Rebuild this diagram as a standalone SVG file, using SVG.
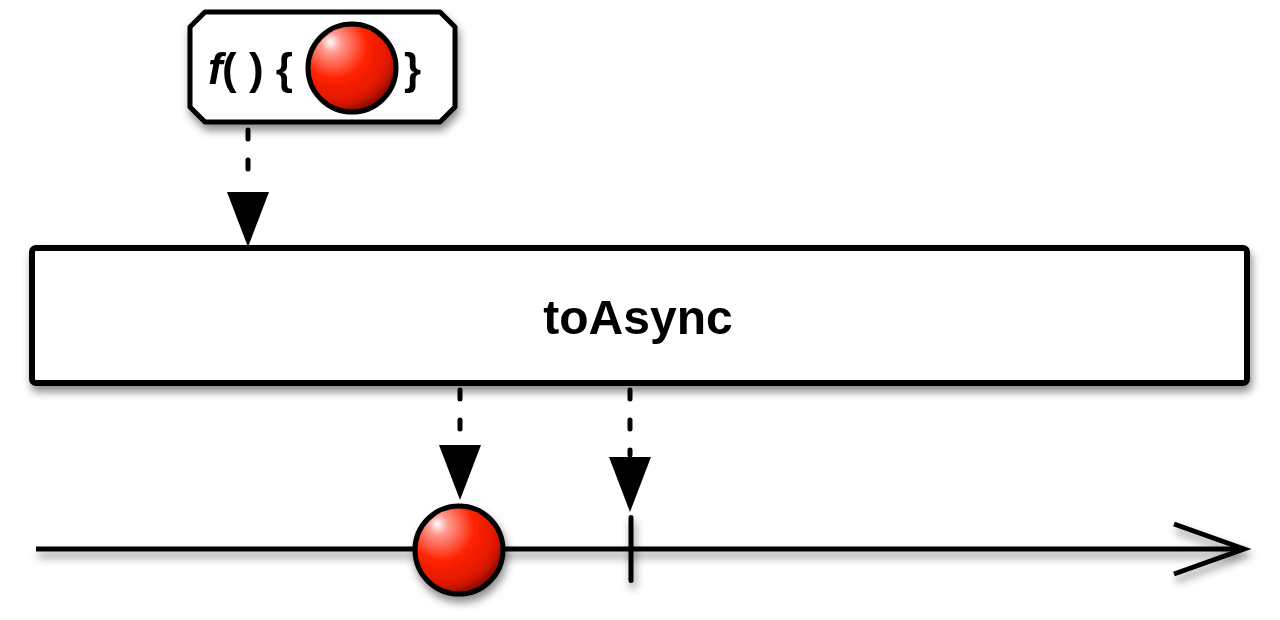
<svg xmlns="http://www.w3.org/2000/svg" width="1280" height="620" viewBox="0 0 1280 620">
<defs>
<filter id="sh" filterUnits="userSpaceOnUse" x="0" y="0" width="1280" height="620">
<feDropShadow dx="2" dy="6" stdDeviation="4" flood-color="#000" flood-opacity="0.45"/>
</filter>
<radialGradient id="ball" cx="0.35" cy="0.3" r="0.75" fx="0.25" fy="0.2">
<stop offset="0" stop-color="#ffffff"/>
<stop offset="0.15" stop-color="#ff9a90"/>
<stop offset="0.5" stop-color="#ff2200"/>
<stop offset="0.8" stop-color="#e01800"/>
<stop offset="1" stop-color="#7a0a00"/>
</radialGradient>
<style>
.dash{stroke:#000;stroke-width:5;stroke-linecap:round;stroke-dasharray:9 21;fill:none}
.lbl{font-family:"Liberation Sans",Arial,sans-serif;font-weight:bold;fill:#000}
.ball{fill:url(#ball);stroke:#000;stroke-width:5}
</style>
</defs>

<g id="timeline" filter="url(#sh)">
<line x1="36" y1="549" x2="1244" y2="549" stroke="#000" stroke-width="5"/>
<polyline points="1174,524 1244,549 1174,574" fill="none" stroke="#000" stroke-width="5"/>
</g>

<g id="connectors">
<line class="dash" x1="248" y1="130" x2="248" y2="190"/>
<path d="M227,192 L269,192 L248,247 Z" fill="#000"/>
<line class="dash" x1="460" y1="390" x2="460" y2="443"/>
<path d="M439,445 L481,445 L460,500 Z" fill="#000"/>
<line class="dash" x1="630" y1="390" x2="630" y2="455"/>
<path d="M609,457 L651,457 L630,512 Z" fill="#000"/>
</g>

<g id="func" filter="url(#sh)">
<path d="M205,12 L440,12 L455,27 L455,107 L440,122 L205,122 L190,107 L190,27 Z" fill="#fff" stroke="#000" stroke-width="5" stroke-linejoin="round"/>
<text class="lbl" x="208" y="84" font-size="44" font-style="italic">f</text>
<text class="lbl" x="222" y="84" font-size="44">( ) {</text>
<circle class="ball" cx="352" cy="68" r="44"/>
<text class="lbl" x="404" y="84" font-size="44">}</text>
</g>

<g id="toAsync" filter="url(#sh)">
<rect x="32" y="248" width="1215" height="135" rx="4" fill="#fff" stroke="#000" stroke-width="6"/>
<text class="lbl" x="638" y="334" font-size="48" text-anchor="middle">toAsync</text>
</g>

<g id="item" filter="url(#sh)">
<circle class="ball" cx="459" cy="550" r="44"/>
</g>

<g id="complete" filter="url(#sh)">
<rect x="628.5" y="515" width="5" height="68" rx="2.5" fill="#000"/>
</g>
</svg>
